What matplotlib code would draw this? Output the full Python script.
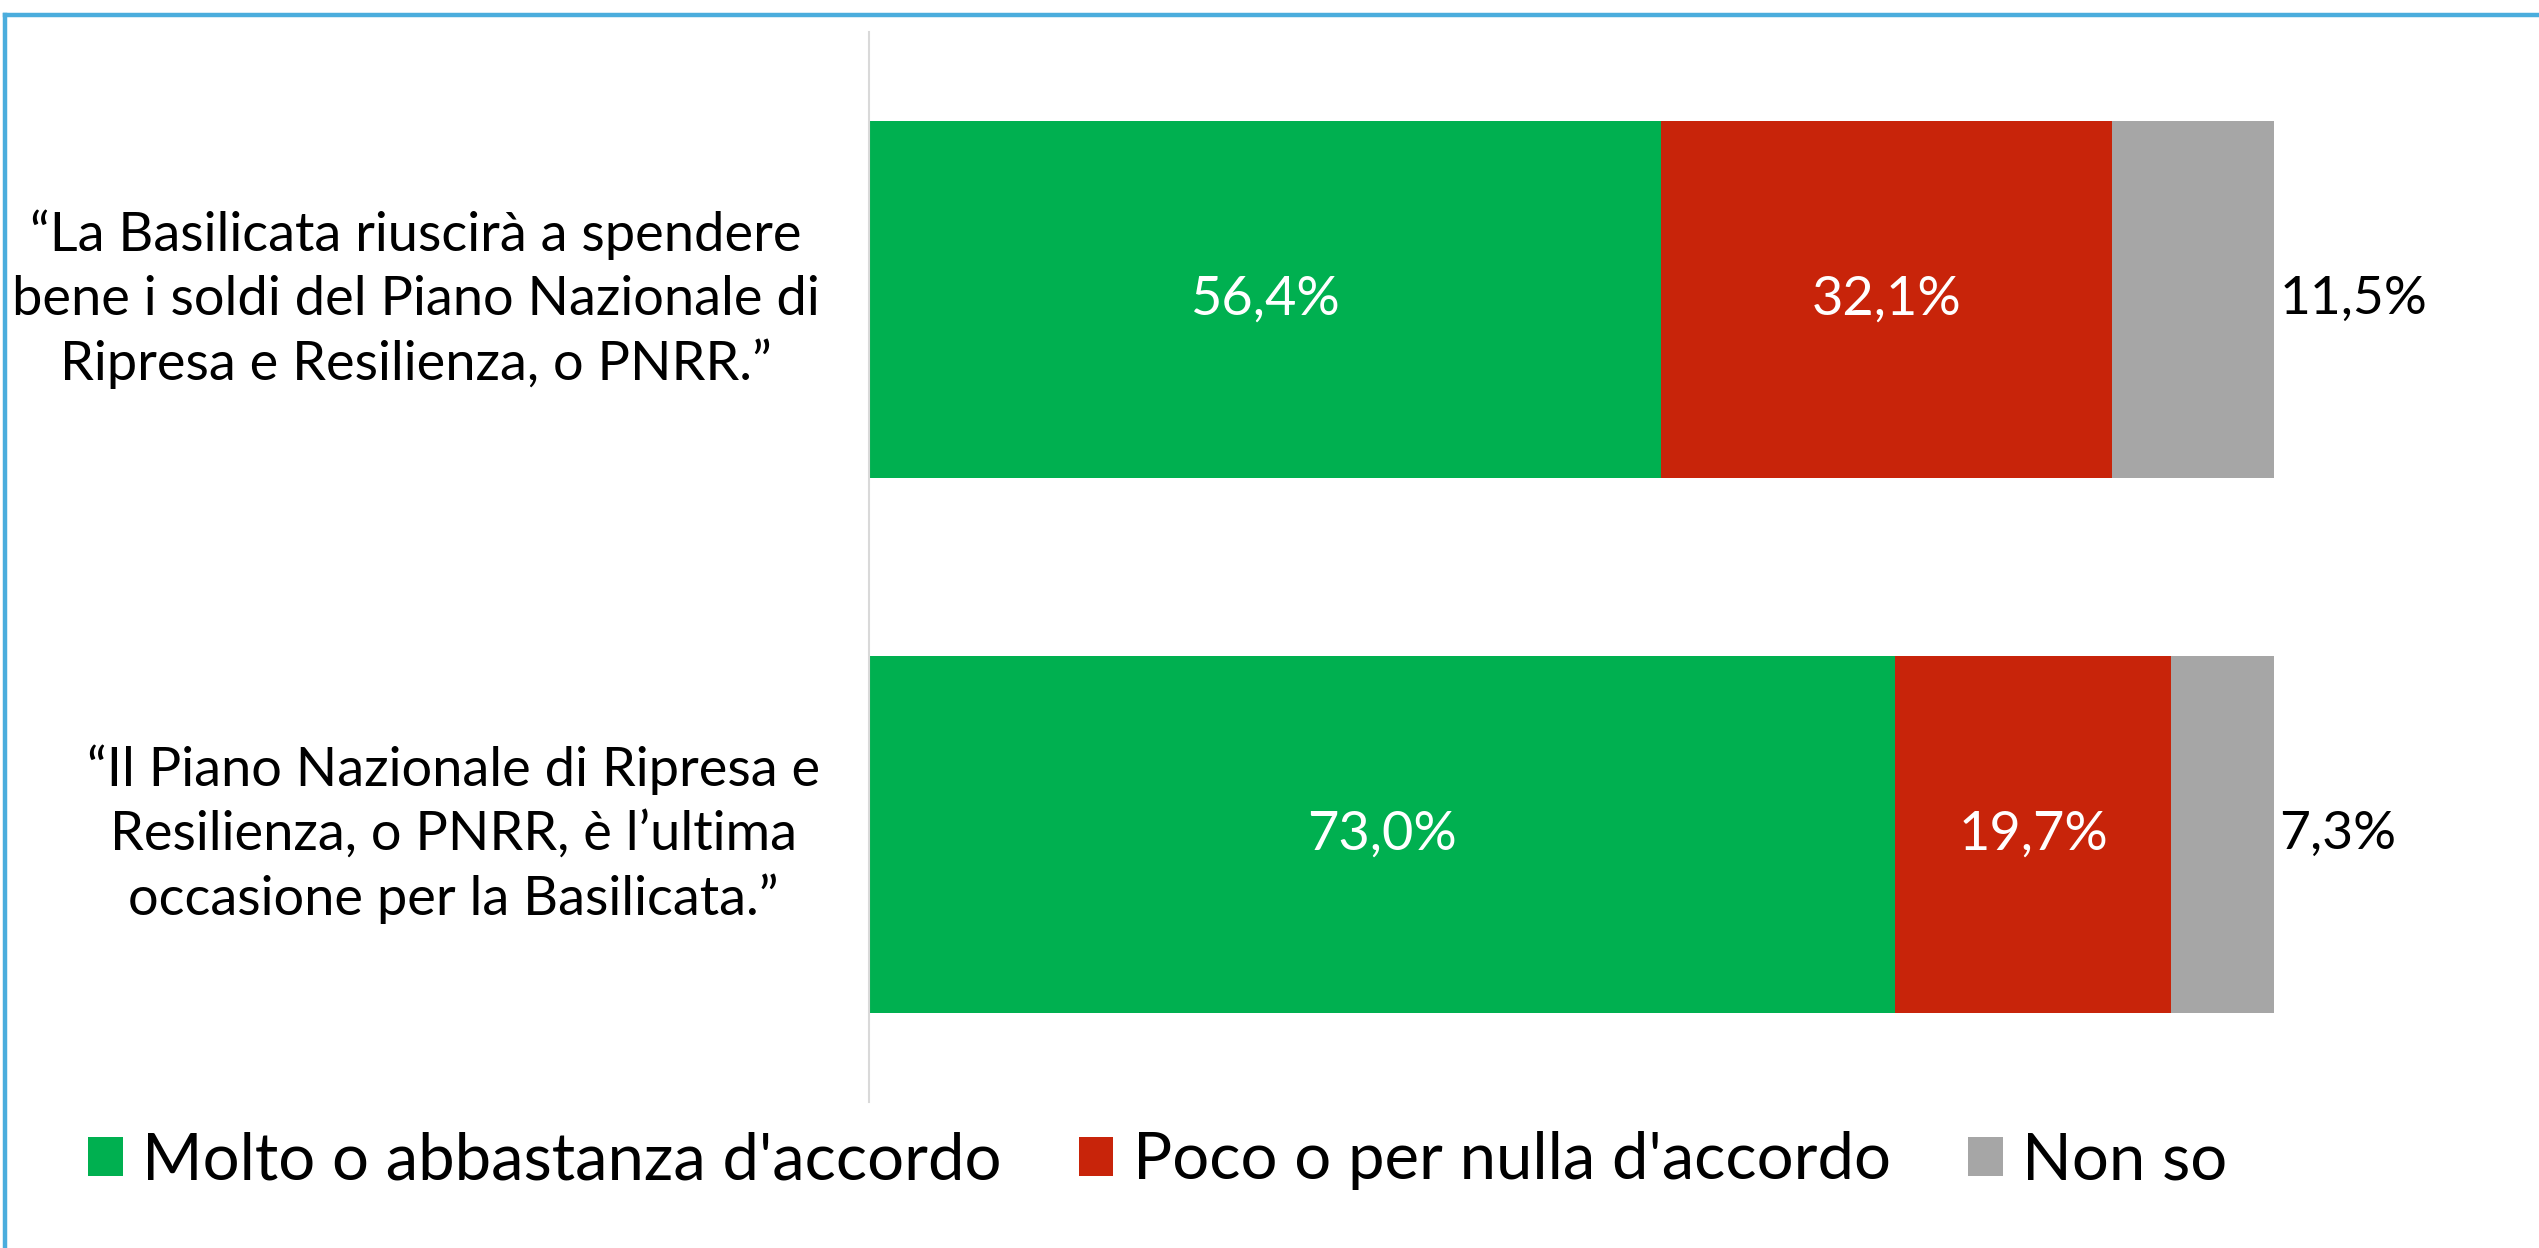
import matplotlib
matplotlib.use("Agg")
import matplotlib.pyplot as plt
from matplotlib.patches import Patch
from matplotlib.lines import Line2D

categories = [
    "\u201cLa Basilicata riuscirà a spendere\nbene i soldi del Piano Nazionale di\nRipresa e Resilienza, o PNRR.\u201d",
    "\u201cIl Piano Nazionale di Ripresa e\nResilienza, o PNRR, è l\u2019ultima\noccasione per la Basilicata.\u201d",
]
series_names = ["Molto o abbastanza d'accordo", "Poco o per nulla d'accordo", "Non so"]
molto = [56.4, 73.0]
poco = [32.1, 19.7]
nonso = [11.5, 7.3]
colors = ["#00B050", "#C8240A", "#A6A6A6"]

FONT = "Lato"
WEIGHT = "normal"
W, H = 2539, 1248
fig = plt.figure(figsize=(W / 100, H / 100), dpi=100)

# axes: x from 869 to 2274 px, y from 32 to 1102 px
ax = fig.add_axes([869 / W, 1 - 1102 / H, (2274 - 869) / W, (1102 - 32) / H])
ax.set_xlim(0, 100)
ax.set_ylim(1.5, -0.5)

y = list(range(len(categories)))
left = [0.0] * len(categories)
for vals, col in zip([molto, poco, nonso], colors):
    ax.barh(y, vals, left=left, height=0.666, color=col, edgecolor="none")
    left = [l + v for l, v in zip(left, vals)]

def fmt(v):
    return f"{v:.1f}%".replace(".", ",")

for i in y:
    ax.text(molto[i] / 2, i, fmt(molto[i]), ha="center", va="center",
            color="white", fontsize=39, family=FONT, fontweight=WEIGHT)
    ax.text(molto[i] + poco[i] / 2, i, fmt(poco[i]), ha="center", va="center",
            color="white", fontsize=39, family=FONT, fontweight=WEIGHT)
    ax.text(molto[i] + poco[i] + nonso[i] + 0.4, i, fmt(nonso[i]),
            ha="left", va="center", color="black", fontsize=38.5, family=FONT, fontweight=WEIGHT,
            clip_on=False)
    ax.text(-3.5, i, categories[i], ha="right", va="center", multialignment="center",
            fontsize=39, family=FONT, fontweight=WEIGHT, linespacing=1.36, color="black")

for s in ["top", "right", "bottom"]:
    ax.spines[s].set_visible(False)
ax.spines["left"].set_color("#D9D9D9")
ax.spines["left"].set_linewidth(1.5)
ax.set_xticks([])
ax.set_yticks([])

# border lines (top and left)
fig.add_artist(Line2D([5 / W, 1], [1 - 15 / H, 1 - 15 / H], color="#4BADDD", lw=3.2,
                      transform=fig.transFigure))
fig.add_artist(Line2D([5 / W, 5 / W], [0, 1 - 15 / H], color="#4BADDD", lw=3.2,
                      transform=fig.transFigure))

handles = [Patch(facecolor=c, edgecolor="none") for c in colors]
leg = fig.legend(handles, series_names, ncol=3, frameon=False,
                 loc="center left", bbox_to_anchor=(88 / W, 1 - 1161 / H),
                 prop={"family": FONT, "weight": WEIGHT, "size": 47},
                 handlelength=0.53, handleheight=0.53, handletextpad=0.3,
                 columnspacing=1.18, borderaxespad=0, borderpad=0)

fig.savefig("out.png", dpi=100, facecolor="white")
